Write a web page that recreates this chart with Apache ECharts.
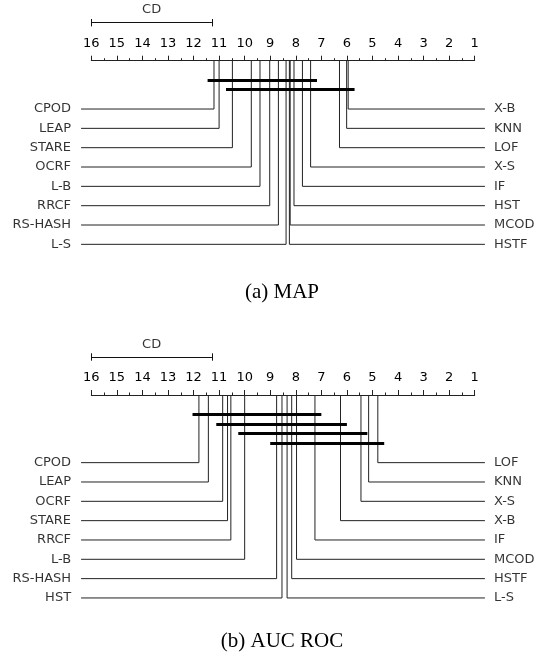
<!DOCTYPE html>
<html><head><meta charset="utf-8">
<script src="https://cdn.jsdelivr.net/npm/echarts@6/dist/echarts.min.js"></script>
<style>html,body{margin:0;padding:0;background:#fff}#c{width:542px;height:659px}</style>
</head><body><div id="c"></div>
<script>
// ---------- data ----------
const tickLabels = ['1','2','3','4','5','6','7','8','9','10','11','12','13','14','15','16'];
const cdValue = 4.72;

const mapNames  = ['CPOD','LEAP','STARE','OCRF','L-B','RRCF','RS-HASH','L-S','HSTF','MCOD','HST','IF','X-S','LOF','KNN','X-B'];
const mapRanks  = [11.20, 11.00, 10.48, 9.74, 9.40, 9.02, 8.68, 8.38, 8.25, 8.22, 8.07, 7.74, 7.42, 6.29, 6.01, 5.95];
const mapCliques = [['CPOD','X-S'], ['STARE','X-B']];

const aucNames  = ['CPOD','LEAP','OCRF','STARE','RRCF','L-B','RS-HASH','HST','L-S','HSTF','MCOD','IF','X-B','X-S','KNN','LOF'];
const aucRanks  = [11.79, 11.42, 10.86, 10.67, 10.54, 10.00, 8.75, 8.54, 8.34, 8.16, 7.97, 7.25, 6.25, 5.45, 5.15, 4.79];
const aucCliques = [['CPOD','IF'], ['OCRF','X-B'], ['L-B','X-S'], ['RS-HASH','LOF']];

const captions = ['(a) MAP', '(b) AUC ROC'];

// ---------- layout ----------
const W = 542, rowH = 19.33;
const gridLeft = 91.3, gridRight = W - 474.7;
const panels = [
  {names: mapNames, ranks: mapRanks, cliques: mapCliques, axisTop: 60.7, capY: 292},
  {names: aucNames, ranks: aucRanks, cliques: aucCliques, axisTop: 395, capY: 641}
];
const EXT = 0.4;      // horizontal connector overhang (rank units)
const BAR_EXT = 0.25; // clique bar overhang

const grid = [], xAxis = [], yAxis = [], series = [], graphic = [];
const FONT = 'DejaVu Sans';

panels.forEach((p, pi) => {
  const n = p.names.length, half = n / 2;
  const nb = p.cliques.length;
  const yMin = -2 - 0.5 * (nb - 1);
  const yMax = half - 1;
  grid.push({left: gridLeft, right: gridRight, top: p.axisTop, height: (yMax - yMin) * rowH});
  xAxis.push({
    type: 'value', gridIndex: pi, min: 1, max: 16, interval: 1, inverse: true, position: 'top',
    axisLine: {show: true, onZero: false, lineStyle: {color: '#222', width: 1}},
    axisTick: {show: true, length: 5, lineStyle: {color: '#222', width: 1}},
    minorTick: {show: true, splitNumber: 2, length: 2.5, lineStyle: {color: '#222', width: 1}},
    splitLine: {show: false}, minorSplitLine: {show: false},
    axisLabel: {show: true, margin: 11, color: '#000', fontFamily: FONT, fontSize: 13,
      formatter: v => tickLabels[Math.round(v) - 1]}
  });
  yAxis.push({type: 'value', gridIndex: pi, min: yMin, max: yMax, inverse: true, show: false,
    splitLine: {show: false}});

  // connectors
  const conn = [];
  const leftLbl = [], rightLbl = [];
  for (let j = 0; j < half; j++) {
    const rl = p.ranks[j];
    conn.push({coords: [[rl, yMin], [rl, j], [16 + EXT, j]]});
    leftLbl.push({value: [16 + EXT, j], name: p.names[j]});
    const k = n - 1 - j;
    const rr = p.ranks[k];
    conn.push({coords: [[rr, yMin], [rr, j], [1 - EXT, j]]});
    rightLbl.push({value: [1 - EXT, j], name: p.names[k]});
  }
  series.push({type: 'lines', coordinateSystem: 'cartesian2d', xAxisIndex: pi, yAxisIndex: pi,
    polyline: true, clip: false, silent: true, animation: false,
    lineStyle: {color: '#222', width: 1, opacity: 1}, data: conn});

  // clique bars
  const bars = p.cliques.map((c, ci) => {
    const a = p.ranks[p.names.indexOf(c[0])], b = p.ranks[p.names.indexOf(c[1])];
    const y = yMin + 1 + 0.5 * ci;
    return {coords: [[a + BAR_EXT, y], [b - BAR_EXT, y]]};
  });
  series.push({type: 'lines', coordinateSystem: 'cartesian2d', xAxisIndex: pi, yAxisIndex: pi,
    clip: false, silent: true, animation: false,
    lineStyle: {color: '#000', width: 3, opacity: 1}, data: bars});

  // CD indicator
  const yCD = yMin - 38 / rowH, tk = 3.7 / rowH;
  series.push({type: 'lines', coordinateSystem: 'cartesian2d', xAxisIndex: pi, yAxisIndex: pi,
    clip: false, silent: true, animation: false,
    lineStyle: {color: '#111', width: 1, opacity: 1},
    data: [
      {coords: [[16, yCD], [16 - cdValue, yCD]]},
      {coords: [[16, yCD - tk], [16, yCD + tk]]},
      {coords: [[16 - cdValue, yCD - tk], [16 - cdValue, yCD + tk]]}
    ]});
  series.push({type: 'scatter', xAxisIndex: pi, yAxisIndex: pi, clip: false, silent: true,
    animation: false, symbolSize: 0,
    label: {show: true, position: 'inside', formatter: 'CD', color: '#000', fontFamily: FONT, fontSize: 13},
    data: [[16 - cdValue / 2, yMin - 50.7 / rowH]]});

  // method labels
  series.push({type: 'scatter', xAxisIndex: pi, yAxisIndex: pi, clip: false, silent: true,
    animation: false, symbolSize: 0,
    label: {show: true, position: 'left', distance: 10, formatter: d => d.name, color: '#000',
      fontFamily: FONT, fontSize: 13},
    data: leftLbl});
  series.push({type: 'scatter', xAxisIndex: pi, yAxisIndex: pi, clip: false, silent: true,
    animation: false, symbolSize: 0,
    label: {show: true, position: 'right', distance: 9, formatter: d => d.name, color: '#000',
      fontFamily: FONT, fontSize: 13},
    data: rightLbl});

  graphic.push({type: 'text', x: 282, y: p.capY,
    style: {text: captions[pi], font: '21px "Liberation Serif"', fill: '#000',
      textAlign: 'center', textVerticalAlign: 'middle'}});
});

const chart = echarts.init(document.getElementById('c'), null, {renderer: 'canvas'});
chart.setOption({animation: false, backgroundColor: '#fff', grid, xAxis, yAxis, series, graphic});
</script>
</body></html>
